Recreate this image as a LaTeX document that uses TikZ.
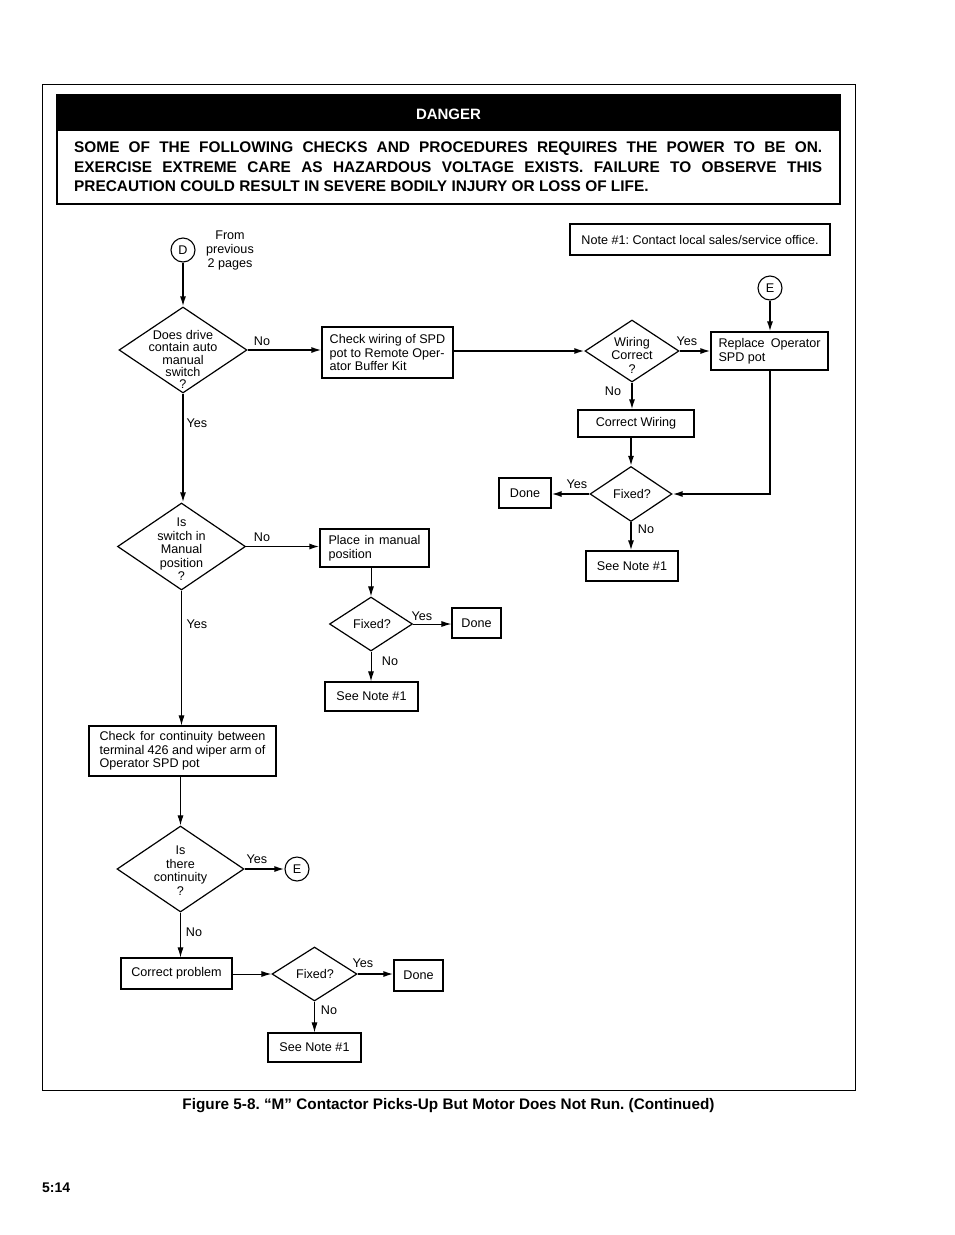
\documentclass[tikz,border=0pt]{standalone}
\usepackage{fontspec}
\setmainfont{Liberation Sans}
\usetikzlibrary{shapes.geometric,arrows.meta,calc}
\newcommand\myfs{\fontsize{12.6}{13.5}\selectfont}
\newcommand\myfsd{\fontsize{12.6}{12.4}\selectfont}
\frenchspacing
\begin{document}
\begin{tikzpicture}[x=1pt,y=-1pt,
  box/.style={draw, line width=1.1pt, rectangle, inner sep=0pt, font=\myfs},
  lbox/.style={box, align=left},
  dia/.style={draw, line width=1.2pt, diamond, inner sep=0pt},
  dtext/.style={font=\myfs, align=center, inner sep=0pt},
  circ/.style={draw, line width=1.1pt, circle, minimum size=24pt, inner sep=0pt, font=\myfs},
  lab/.style={font=\myfs, inner sep=0pt},
  arr/.style={line width=1.6pt, -{Latex[length=10pt,width=6pt]}},
  tarr/.style={line width=1pt, -{Latex[length=10pt,width=6pt]}},
  dfont/.style={font=\bfseries\fontsize{15.4}{19}\selectfont}
]
\useasboundingbox (0,0) rectangle (954,1235);
% outer frame
\draw[line width=0.8pt] (42,84) rectangle (855,1090);
% danger box
\fill[black] (57,95) rectangle (840,131);
\draw[line width=1.5pt] (57,95) rectangle (840,204);
\node[font=\bfseries\fontsize{15}{19}\selectfont, text=white, inner sep=0pt] (dangerT) at (448.5,114.5) {DANGER};
\node[dfont, anchor=west, inner sep=0pt] (dl1) at (74,148.5) {\makebox[748pt][s]{SOME OF THE FOLLOWING CHECKS AND PROCEDURES REQUIRES THE POWER TO BE ON.}};
\node[dfont, anchor=west, inner sep=0pt] (dl2) at (74,167.5) {\makebox[748pt][s]{EXERCISE EXTREME CARE AS HAZARDOUS VOLTAGE EXISTS. FAILURE TO OBSERVE THIS}};
\node[dfont, anchor=west, inner sep=0pt] (dl3) at (74,186.5) {PRECAUTION COULD RESULT IN SEVERE BODILY INJURY OR LOSS OF LIFE.};

% note
\node[box, minimum width=260pt, minimum height=31pt] (note) at (700,239.5) {Note \#1: Contact local sales/service office.};

% start
\node[circ] (D) at (183,250) {D};
\node[font=\fontsize{12.6}{14}\selectfont, align=center, inner sep=0pt] (from) at (230,250) {From\\previous\\2 pages};

% diamond 1
\node[dia, minimum width=128pt, minimum height=86pt] (d1) at (183,350) {};
\node[dtext, font=\myfsd] (d1t) at (183,359.5) {Does drive\\contain auto\\manual\\switch\\?};
\node[lbox, minimum width=131pt, minimum height=51pt] (b1) at (387.5,352.5) {Check wiring of SPD\\pot to Remote Oper-\\ator Buffer Kit};

% diamond 2
\node[dia, minimum width=94pt, minimum height=62pt] (d2) at (632,351) {};
\node[dtext] (d2t) at (632,355) {Wiring\\Correct\\?};
\node[lbox, minimum width=117pt, minimum height=38pt] (rep) at (769.5,351) {\makebox[102pt][s]{Replace Operator}\\SPD pot};
\node[circ] (E1) at (770,288) {E};
\node[box, minimum width=116pt, minimum height=27pt] (cw) at (636,423.5) {Correct Wiring};
\node[dia, minimum width=82pt, minimum height=55pt] (f1) at (631,494) {};
\node[dtext] (f1t) at (632,494) {Fixed?};
\node[box, minimum width=52pt, minimum height=30pt] (done1) at (525,493) {Done};
\node[box, minimum width=92pt, minimum height=30pt] (see1) at (632,566) {See Note \#1};

% diamond 3
\node[dia, minimum width=128pt, minimum height=87pt] (d3) at (181.5,546.5) {};
\node[dtext] (d3t) at (181.5,549.5) {Is\\switch in\\Manual\\position\\?};
\node[lbox, minimum width=109pt, minimum height=38pt] (place) at (374.5,548) {\makebox[92pt][s]{Place in manual}\\position};
\node[dia, minimum width=83pt, minimum height=54pt] (f2) at (371,624) {};
\node[dtext] (f2t) at (372,623.5) {Fixed?};
\node[box, minimum width=49pt, minimum height=30pt] (done2) at (476.5,623) {Done};
\node[box, minimum width=93pt, minimum height=29pt] (see2) at (371.5,696.5) {See Note \#1};

% check box
\node[lbox, minimum width=187pt, minimum height=50pt] (chk) at (182.5,751) {\makebox[166pt][s]{Check for continuity between}\\\makebox[166pt][s]{terminal 426 and wiper arm of}\\Operator SPD pot};

% diamond 4
\node[dia, minimum width=127pt, minimum height=86pt] (d4) at (180.5,869) {};
\node[dtext] (d4t) at (180.5,870.5) {Is\\there\\continuity\\?};
\node[circ] (E2) at (297,869) {E};
\node[box, minimum width=111pt, minimum height=31pt] (cp) at (176.5,973.5) {Correct problem};
\node[dia, minimum width=85pt, minimum height=54pt] (f3) at (314.5,974) {};
\node[dtext] (f3t) at (315,974) {Fixed?};
\node[box, minimum width=49pt, minimum height=31pt] (done3) at (418.5,975.5) {Done};
\node[box, minimum width=93pt, minimum height=29pt] (see3) at (314.5,1047.5) {See Note \#1};

% heavier right/bottom edges
\foreach \n in {note,b1,rep,cw,done1,see1,place,done2,see2,chk,cp,done3,see3}
  \draw[line width=1.8pt] (\n.north east) -- (\n.south east) -- (\n.south west);

% connectors
\draw[arr] (D.south) -- (D.south |- d1.north);
\draw[arr] (d1.east) -- (d1.east -| b1.west);
\draw[arr] (b1.east |- d2.west) -- (d2.west);
\draw[arr] (d2.east) -- (d2.east -| rep.west);
\draw[arr] (E1.south) -- (E1.south |- rep.north);
\draw[arr] (d2.south) -- (d2.south |- cw.north);
\draw[arr] (f1.north |- cw.south) -- (f1.north);
\draw[arr] (E1.south |- rep.south) |- (f1.east);
\draw[arr] (f1.west) -- (f1.west -| done1.east);
\draw[arr] (f1.south) -- (f1.south |- see1.north);

\draw[arr] (d1.south) -- (d1.south |- d3.north);
\draw[arr] (d3.east) -- (d3.east -| place.west);
\draw[tarr] (f2.north |- place.south) -- (f2.north);
\draw[tarr] (f2.east) -- (f2.east -| done2.west);
\draw[tarr] (f2.south) -- (f2.south |- see2.north);

\draw[tarr] (d3.south) -- (d3.south |- chk.north);
\draw[tarr] (d4.north |- chk.south) -- (d4.north);
\draw[arr] (d4.east) -- (E2.west);
\draw[tarr] (d4.south) -- (d4.south |- cp.north);
\draw[tarr] (cp.east |- f3.west) -- (f3.west);
\draw[arr] (f3.east) -- (f3.east -| done3.west);
\draw[tarr] (f3.south) -- (f3.south |- see3.north);

% labels
\node[lab] (l1) at (262,341) {No};
\node[lab] (l2) at (687,341) {Yes};
\node[lab] (l3) at (613,391) {No};
\node[lab] (l4) at (577,484) {Yes};
\node[lab] (l5) at (646,529) {No};
\node[lab] (l6) at (197,423) {Yes};
\node[lab] (l7) at (262,537) {No};
\node[lab] (l8) at (422,616) {Yes};
\node[lab] (l9) at (390,661) {No};
\node[lab] (l10) at (197,624) {Yes};
\node[lab] (l11) at (257,859) {Yes};
\node[lab] (l12) at (194,932) {No};
\node[lab] (l13) at (363,963) {Yes};
\node[lab] (l14) at (329,1010) {No};

% caption
\node[font=\bfseries\fontsize{15.3}{17}\selectfont, inner sep=0pt] (cap) at (448.5,1105.5) {Figure 5-8. “M” Contactor Picks-Up But Motor Does Not Run. (Continued)};
\node[font=\bfseries\fontsize{14}{17}\selectfont, anchor=west, inner sep=0pt] (pg) at (42,1188) {5:14};
\end{tikzpicture}
\end{document}
